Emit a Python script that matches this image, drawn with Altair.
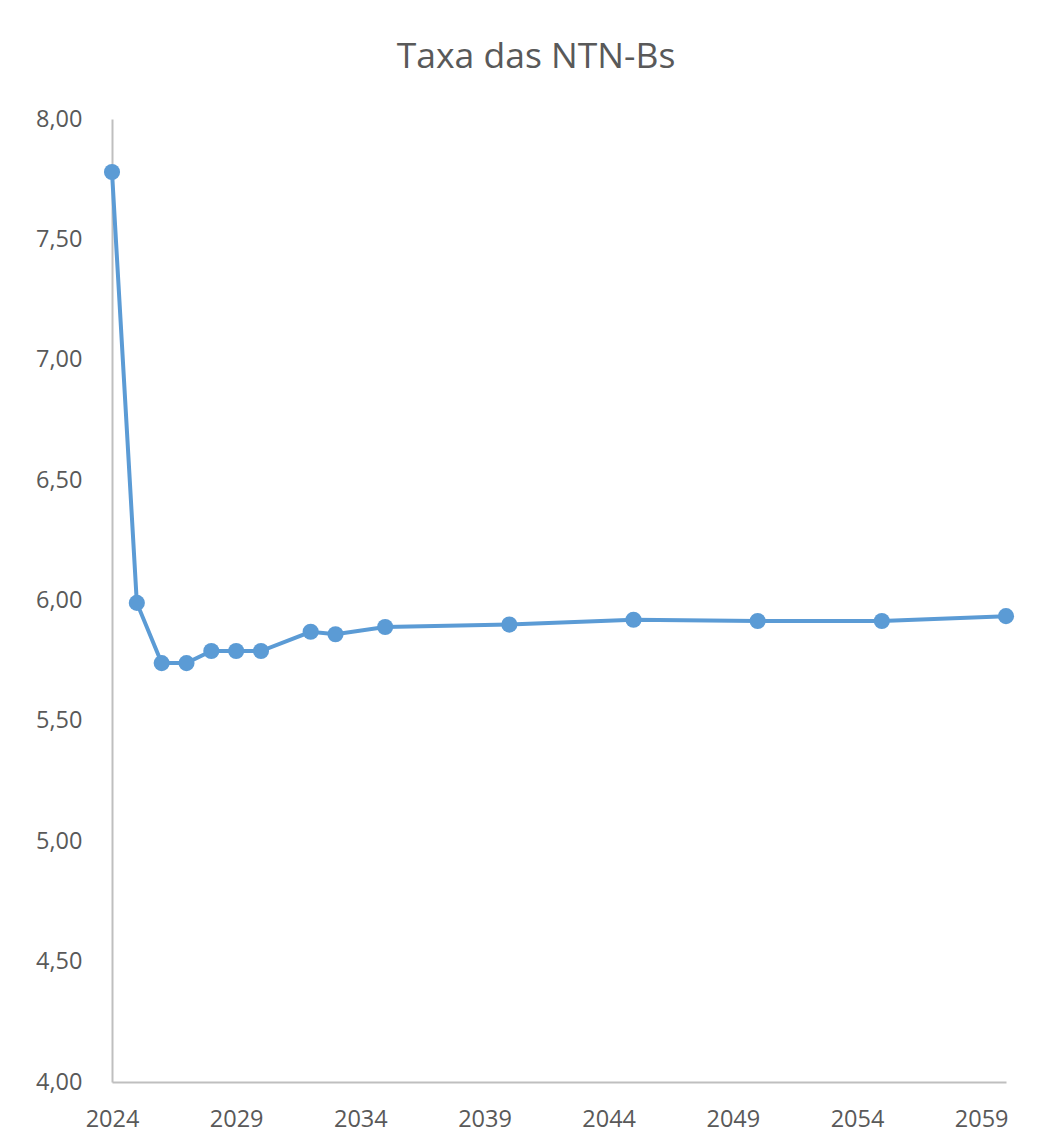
import altair as alt
import pandas as pd

years = [2024, 2025, 2026, 2027, 2028, 2029, 2030, 2032, 2033, 2035, 2040, 2045, 2050, 2055, 2060]
rates = [7.78, 5.99, 5.74, 5.74, 5.79, 5.79, 5.79, 5.87, 5.86, 5.89, 5.90, 5.92, 5.915, 5.915, 5.935]
x_ticks = [2024, 2029, 2034, 2039, 2044, 2049, 2054, 2059]
y_ticks = [4.0, 4.5, 5.0, 5.5, 6.0, 6.5, 7.0, 7.5, 8.0]
title_text = "Taxa das NTN-Bs"

df = pd.DataFrame({"ano": years, "taxa": rates})

FONT = "Open Sans"
GREY = "#595959"
BLUE = "#5b9bd5"

x = alt.X("ano:Q",
          scale=alt.Scale(domain=[2024, 2060], nice=False, zero=False),
          axis=alt.Axis(values=x_ticks, format="d", title=None, grid=False,
                        ticks=False, domainColor="#bfbfbf", domainWidth=2,
                        labelFont=FONT, labelFontSize=23.5, labelColor=GREY,
                        labelPadding=25, labelFlush=False))
y = alt.Y("taxa:Q",
          scale=alt.Scale(domain=[4, 8], nice=False, zero=False),
          axis=alt.Axis(values=y_ticks, title=None, grid=False, ticks=False,
                        domainColor="#bfbfbf", domainWidth=2,
                        labelExpr="replace(format(datum.value, '.2f'), '.', ',')",
                        labelFont=FONT, labelFontSize=23.5, labelColor=GREY,
                        labelPadding=30))

line = alt.Chart(df).mark_line(color=BLUE, strokeWidth=4).encode(x=x, y=y)
pts = alt.Chart(df).mark_point(filled=True, color=BLUE, size=260, opacity=1).encode(x=x, y=y)

chart = (line + pts).properties(
    width=894, height=963,
    title=alt.TitleParams(title_text, font=FONT, fontSize=35.5, fontWeight="normal",
                          color=GREY, anchor="middle", offset=32, dx=-23),
    autosize=alt.AutoSizeParams(type="none"),
    padding={"left": 112, "top": 119, "right": 48, "bottom": 65},
).configure(background="white").configure_view(strokeWidth=0, stroke="transparent")

chart.save("out.html", embed_options={"renderer": "svg", "actions": False})
